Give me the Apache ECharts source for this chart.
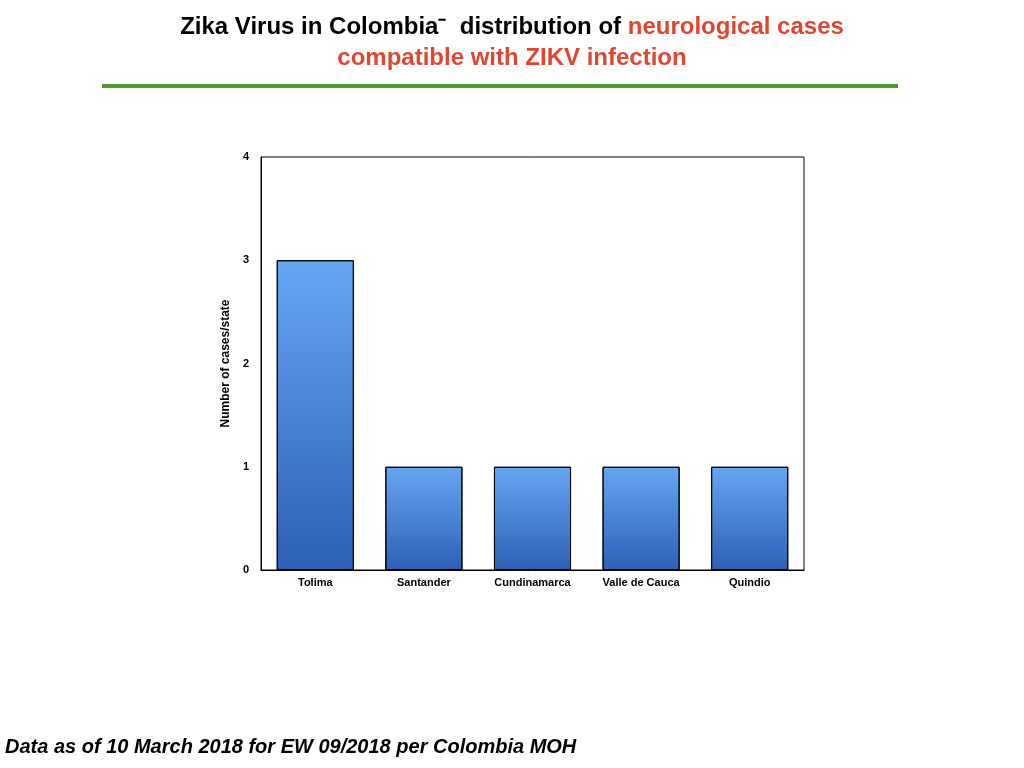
<!DOCTYPE html>
<html>
<head>
<meta charset="utf-8">
<script src="https://cdn.jsdelivr.net/npm/echarts@6/dist/echarts.min.js"></script>
<style>
  html, body { margin: 0; padding: 0; background: #fff; }
  #chart { width: 1024px; height: 768px; }
</style>
</head>
<body>
<div id="chart"></div>
<script>
// departments and case counts
var states = ['Tolima', 'Santander', 'Cundinamarca', 'Valle de Cauca', 'Quindio'];
var cases = [3, 1, 1, 1, 1];
var yTicks = [0, 1, 2, 3, 4];

var chart = echarts.init(document.getElementById('chart'));

var option = {
  backgroundColor: '#ffffff',
  title: [{
    text: '{b|Zika Virus in Colombia\u207B  distribution of }{r|neurological cases}',
    left: 'center',
    top: 10,
    textStyle: {
      rich: {
        b: { fontFamily: 'Liberation Sans', fontWeight: 'bold', fontSize: 24, color: '#000' },
        r: { fontFamily: 'Liberation Sans', fontWeight: 'bold', fontSize: 24, color: '#e0462f' }
      }
    }
  }, {
    text: 'compatible with ZIKV infection',
    left: 'center',
    top: 41,
    textStyle: { fontFamily: 'Liberation Sans', fontWeight: 'bold', fontSize: 24, color: '#e0462f' }
  }, {
    text: 'Data as of 10 March 2018 for EW 09/2018 per Colombia MOH',
    left: 0,
    top: 732,
    textStyle: { fontFamily: 'Liberation Sans', fontWeight: 'bold', fontStyle: 'italic', fontSize: 20, color: '#000' }
  }],
  graphic: [{
    type: 'rect',
    shape: { x: 102, y: 84, width: 796, height: 4 },
    style: { fill: '#4b9a33' }
  }],
  grid: {
    left: 261, right: 220, top: 157, bottom: 198,
    show: true, borderColor: '#000', borderWidth: 1, backgroundColor: 'transparent'
  },
  xAxis: {
    type: 'category',
    data: states,
    axisLine: { lineStyle: { color: '#000', width: 1 } },
    axisTick: { show: false },
    axisLabel: { color: '#000', fontFamily: 'Liberation Sans', fontWeight: 'bold', fontSize: 11, margin: 7 }
  },
  yAxis: {
    type: 'value',
    min: yTicks[0],
    max: yTicks[yTicks.length - 1],
    interval: 1,
    name: 'Number of cases/state',
    nameLocation: 'middle',
    nameGap: 22,
    nameTextStyle: { color: '#000', fontFamily: 'Liberation Sans', fontWeight: 'bold', fontSize: 12 },
    axisLine: { show: true, lineStyle: { color: '#000', width: 1 } },
    axisTick: { show: false },
    splitLine: { show: false },
    axisLabel: { color: '#000', fontFamily: 'Liberation Sans', fontWeight: 'bold', fontSize: 11, margin: 12 }
  },
  series: [{
    type: 'bar',
    data: cases,
    barWidth: '71%',
    itemStyle: {
      borderColor: '#000',
      borderWidth: 1,
      color: new echarts.graphic.LinearGradient(0, 0, 0, 1, [
        { offset: 0, color: '#66a6f1' },
        { offset: 1, color: '#2d60b6' }
      ])
    }
  }]
};

chart.setOption(option);
</script>
</body>
</html>
